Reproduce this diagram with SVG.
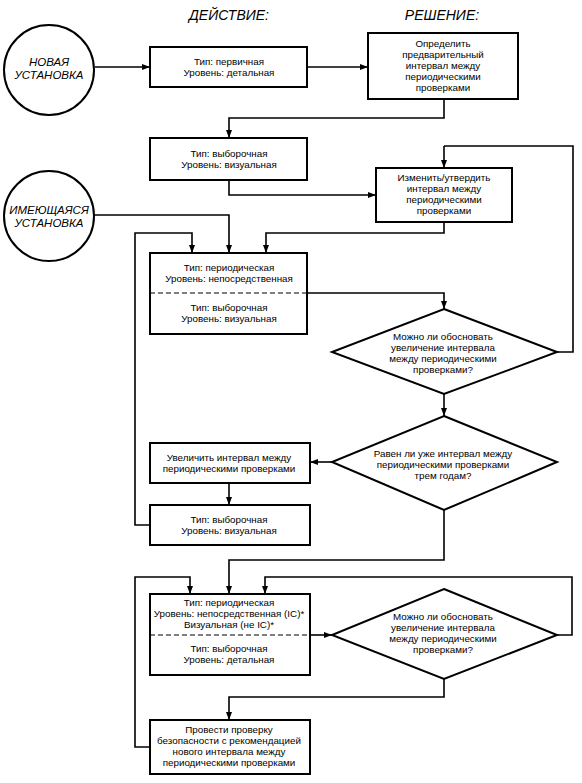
<svg xmlns="http://www.w3.org/2000/svg" width="582" height="783" viewBox="0 0 582 783">
<defs>
<marker id="ah" markerWidth="8" markerHeight="6" refX="8" refY="3" orient="auto" markerUnits="userSpaceOnUse">
<path d="M0,0 L8,3 L0,6 Z" fill="#000"/>
</marker>
<style>
.n{fill:#fff;stroke:#000;stroke-width:2}
.t{font-family:"Liberation Sans",Arial,sans-serif;font-size:9.8px;text-anchor:middle;fill:#000}
.c{font-family:"Liberation Sans",Arial,sans-serif;font-size:11.5px;font-style:italic;text-anchor:middle;fill:#000}
.h{font-family:"Liberation Sans",Arial,sans-serif;font-size:14px;font-style:italic;text-anchor:middle;fill:#000}
.e{fill:none;stroke:#000;stroke-width:1.6}
.d{fill:none;stroke:#000;stroke-width:1.2;stroke-dasharray:5,3}
</style>
</defs>
<rect width="582" height="783" fill="#fff"/>
<text class="h" x="229" y="20">ДЕЙСТВИЕ:</text>
<text class="h" x="442" y="20">РЕШЕНИЕ:</text>

<g id="connectors">
<path class="e" d="M95,67 H150" marker-end="url(#ah)"/>
<path class="e" d="M307,67 H368" marker-end="url(#ah)"/>
<path class="e" d="M444,99 V118 H229 V138" marker-end="url(#ah)"/>
<path class="e" d="M229,180 V195 H376" marker-end="url(#ah)"/>
<path class="e" d="M444,146 V168" marker-end="url(#ah)"/>
<path class="e" d="M557,352 H573 V146 H444"/>
<path class="e" d="M444,222 V233 H266 V253" marker-end="url(#ah)"/>
<path class="e" d="M94,215 H229 V253" marker-end="url(#ah)"/>
<path class="e" d="M150,525 H135 V233 H192 V253" marker-end="url(#ah)"/>
<path class="e" d="M307,293 H444 V309" marker-end="url(#ah)"/>
<path class="e" d="M444,394 V416" marker-end="url(#ah)"/>
<path class="e" d="M332,462 H310" marker-end="url(#ah)"/>
<path class="e" d="M229,483 V505" marker-end="url(#ah)"/>
<path class="e" d="M444,510 V560 H229 V594" marker-end="url(#ah)"/>
<path class="e" d="M150,747 H135 V577 H190 V594" marker-end="url(#ah)"/>
<path class="e" d="M557,635 H572 V577 H265 V594" marker-end="url(#ah)"/>
<path class="e" d="M310,635 H332" marker-end="url(#ah)"/>
<path class="e" d="M444,679 V697 H229 V720" marker-end="url(#ah)"/>
</g>

<g id="new-install">
<circle class="n" cx="49" cy="70" r="45"/>
<text class="c" x="49" y="66">НОВАЯ</text>
<text class="c" x="49" y="79">УСТАНОВКА</text>
</g>
<g id="existing-install">
<circle class="n" cx="49" cy="216" r="45"/>
<text class="c" x="49" y="214">ИМЕЮЩАЯСЯ</text>
<text class="c" x="49" y="227">УСТАНОВКА</text>
</g>

<g id="box1">
<rect class="n" x="150" y="47" width="157" height="40"/>
<text class="t" x="229" y="65">Тип: первичная</text>
<text class="t" x="229" y="76">Уровень: детальная</text>
</g>
<g id="box2">
<rect class="n" x="368" y="33" width="150" height="66"/>
<text class="t" x="443" y="47">Определить</text>
<text class="t" x="443" y="58">предварительный</text>
<text class="t" x="443" y="69">интервал между</text>
<text class="t" x="443" y="80">периодическими</text>
<text class="t" x="443" y="91">проверками</text>
</g>
<g id="box3">
<rect class="n" x="150" y="138" width="157" height="42"/>
<text class="t" x="229" y="157">Тип: выборочная</text>
<text class="t" x="229" y="168">Уровень: визуальная</text>
</g>
<g id="box4">
<rect class="n" x="376" y="168" width="136" height="54"/>
<text class="t" x="444" y="181">Изменить/утвердить</text>
<text class="t" x="444" y="192">интервал между</text>
<text class="t" x="444" y="203">периодическими</text>
<text class="t" x="444" y="214">проверками</text>
</g>
<g id="box5">
<rect class="n" x="150" y="253" width="157" height="81"/>
<line class="d" x1="150" y1="293" x2="307" y2="293"/>
<text class="t" x="229" y="271">Тип: периодическая</text>
<text class="t" x="229" y="282">Уровень: непосредственная</text>
<text class="t" x="229" y="311">Тип: выборочная</text>
<text class="t" x="229" y="322">Уровень: визуальная</text>
</g>
<g id="diamond1">
<polygon class="n" points="444,309 557,352 444,394 332,352"/>
<text class="t" x="443" y="340">Можно ли обосновать</text>
<text class="t" x="443" y="351">увеличение интервала</text>
<text class="t" x="443" y="362">между периодическими</text>
<text class="t" x="443" y="373">проверками?</text>
</g>
<g id="diamond2">
<polygon class="n" points="444,416 557,462 444,510 332,462"/>
<text class="t" x="443" y="457">Равен ли уже интервал между</text>
<text class="t" x="443" y="468">периодическими проверками</text>
<text class="t" x="443" y="479">трем годам?</text>
</g>
<g id="box6">
<rect class="n" x="150" y="443" width="160" height="40"/>
<text class="t" x="229" y="461">Увеличить интервал между</text>
<text class="t" x="229" y="472">периодическими проверками</text>
</g>
<g id="box7">
<rect class="n" x="150" y="505" width="160" height="40"/>
<text class="t" x="229" y="523">Тип: выборочная</text>
<text class="t" x="229" y="534">Уровень: визуальная</text>
</g>
<g id="box8">
<rect class="n" x="150" y="594" width="160" height="81"/>
<line class="d" x1="150" y1="635" x2="310" y2="635"/>
<text class="t" x="229" y="606">Тип: периодическая</text>
<text class="t" x="229" y="617">Уровень: непосредственная (IC)*</text>
<text class="t" x="229" y="628">Визуальная (не IC)*</text>
<text class="t" x="229" y="652">Тип: выборочная</text>
<text class="t" x="229" y="663">Уровень: детальная</text>
</g>
<g id="diamond3">
<polygon class="n" points="444,589 557,635 444,679 332,635"/>
<text class="t" x="443" y="620">Можно ли обосновать</text>
<text class="t" x="443" y="631">увеличение интервала</text>
<text class="t" x="443" y="642">между периодическими</text>
<text class="t" x="443" y="653">проверками?</text>
</g>
<g id="box9">
<rect class="n" x="150" y="720" width="160" height="54"/>
<text class="t" x="229" y="733">Провести проверку</text>
<text class="t" x="229" y="744">безопасности с рекомендацией</text>
<text class="t" x="229" y="755">нового интервала между</text>
<text class="t" x="229" y="766">периодическими проверками</text>
</g>
</svg>
